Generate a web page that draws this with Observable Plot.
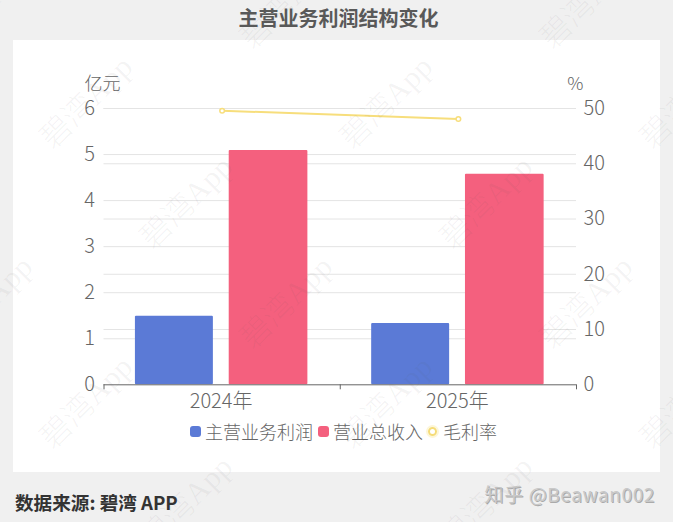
<!DOCTYPE html>
<html lang="zh">
<head>
<meta charset="utf-8">
<script src="https://cdn.jsdelivr.net/npm/d3@7"></script>
<script src="https://cdn.jsdelivr.net/npm/@observablehq/plot@0.6"></script>
<style>
html,body{margin:0;padding:0;}
body{width:673px;height:522px;background:#f0f0f0;position:relative;overflow:hidden;font-family:"Noto Sans CJK SC","Noto Sans",sans-serif;}
#title{position:absolute;left:0;width:677px;top:3px;text-align:center;font-size:20px;font-weight:700;line-height:30px;color:#595959;}
#panel{position:absolute;left:13px;top:40px;width:647px;height:432px;background:#fff;}
#panel svg{display:block;position:absolute;left:0;top:0;}
#legend{position:absolute;left:177px;top:378px;height:26px;display:flex;align-items:center;font-size:18px;font-weight:300;color:#666;line-height:26px;white-space:nowrap;}
.sw{display:inline-block;width:11px;height:11px;border-radius:3px;margin-right:4px;}
.ring{display:inline-block;box-sizing:border-box;width:9px;height:9px;border-radius:50%;border:2px solid #f5dc78;box-shadow:0 0 0 2px #fdf6d8;margin:0 6px 0 0;}
#source{position:absolute;left:15px;top:488px;font-size:18.6px;font-weight:700;line-height:27px;color:#333;}
#credit{position:absolute;right:18px;top:480px;font-size:19px;line-height:27px;color:#c9c9c9;font-weight:400;text-shadow:1px 1px 0 #aaa;letter-spacing:.6px;}
.wm{position:absolute;transform:translate(-50%,-50%) rotate(-45deg);font-family:"Liberation Serif","Noto Sans CJK SC",serif;font-size:31px;font-weight:300;color:rgba(90,90,90,.065);white-space:nowrap;pointer-events:none;}
</style>
</head>
<body>
<div id="title">主营业务利润结构变化</div>
<div id="panel"><div id="legend"></div></div>
<div id="source">数据来源: 碧湾 APP</div>
<div id="credit">知乎 @Beawan002</div>
<script>
const years = [2024, 2025];
const yearLabels = ["2024年", "2025年"];
const seriesNames = ["主营业务利润", "营业总收入", "毛利率"];
const coreProfit = [1.49, 1.33];
const totalRevenue = [5.09, 4.57];
const grossMargin = [49.6, 48.1];
const leftTicks = [0, 1, 2, 3, 4, 5, 6];
const rightTicks = [0, 10, 20, 30, 40, 50];
const blue = "#5b7ad6", red = "#f4607e", yellow = "#f7de7c";
const inkColor = "#666", gridColor = "#e4e4e4";
const tickFont = {fontSize: 20, fontWeight: 300, fill: inkColor};

const leftMax = 6, rightMax = 50;
const toLeft = v => v * leftMax / rightMax;
const slots = {profit: [-0.367, -0.037], revenue: [0.03, 0.363]};
const profitRows = years.map((y, i) => ({x1: y + slots.profit[0], x2: y + slots.profit[1], v: coreProfit[i]}));
const revenueRows = years.map((y, i) => ({x1: y + slots.revenue[0], x2: y + slots.revenue[1], v: totalRevenue[i]}));
const marginRows = years.map((y, i) => ({x: y, v: toLeft(grossMargin[i])}));

const chart = Plot.plot({
  width: 647, height: 432,
  marginLeft: 90.5, marginRight: 84, marginTop: 68, marginBottom: 87.7,
  style: {background: "transparent", fontFamily: '"Noto Sans CJK SC","Noto Sans",sans-serif'},
  x: {domain: [2023.5, 2025.5], axis: null},
  y: {domain: [0, leftMax], axis: null},
  marks: [
    Plot.ruleY(leftTicks.slice(1), {stroke: gridColor, strokeWidth: 1}),
    Plot.ruleY(rightTicks.slice(1).map(toLeft), {stroke: gridColor, strokeWidth: 1}),
    Plot.rectY(profitRows, {x1: "x1", x2: "x2", y: "v", fill: blue, r: 1}),
    Plot.rectY(revenueRows, {x1: "x1", x2: "x2", y: "v", fill: red, r: 1}),
    Plot.ruleY([0], {stroke: inkColor, strokeWidth: 1}),
    Plot.line(marginRows, {x: "x", y: "v", stroke: yellow, strokeWidth: 2}),
    Plot.dot(marginRows, {x: "x", y: "v", r: 2.3, stroke: yellow, strokeWidth: 1.5, fill: "#fff"}),
    Plot.axisX({ticks: [2023.5, 2024.5, 2025.5], tickFormat: () => "", tickSize: 5, stroke: inkColor, anchor: "bottom", label: null}),
    Plot.axisX({ticks: years, tickFormat: (d, i) => yearLabels[i], tickSize: 0, tickPadding: 9, dx: -1, anchor: "bottom", label: null, ...tickFont}),
    Plot.axisY({ticks: leftTicks, tickSize: 0, tickPadding: 9, anchor: "left", label: null, tickFormat: d3.format("d"), ...tickFont}),
    Plot.axisY({ticks: rightTicks.map(toLeft), tickSize: 0, tickPadding: 7, anchor: "right", label: null, tickFormat: (d, i) => String(rightTicks[i]), ...tickFont}),
    Plot.text(["亿元"], {frameAnchor: "top-left", dx: -19.5, dy: -24, textAnchor: "start", lineAnchor: "middle", fontSize: 18, fontWeight: 300, fill: inkColor}),
    Plot.text(["%"], {frameAnchor: "top-right", dx: 7, dy: -24, textAnchor: "end", lineAnchor: "middle", fontSize: 18, fontWeight: 300, fill: inkColor})
  ]
});
document.getElementById("panel").prepend(chart);

// legend
const legend = document.getElementById("legend");
seriesNames.forEach((name, i) => {
  const mark = document.createElement("span");
  if (i < 2) { mark.className = "sw"; mark.style.background = i === 0 ? blue : red; }
  else mark.className = "ring";
  const label = document.createElement("span");
  label.textContent = name;
  label.style.marginRight = "5px";
  legend.append(mark, label);
});

// watermark lattice
const wmRows = [[0, -16], [100, 84], [200, 184], [300, -16], [400, 84], [500, 184]];
wmRows.forEach(([top, start]) => {
  for (let left = start; left < 760; left += 300) {
    const w = document.createElement("div");
    w.className = "wm";
    w.textContent = "碧湾App";
    w.style.left = left + "px";
    w.style.top = top + "px";
    document.body.append(w);
  }
});
</script>
</body>
</html>
